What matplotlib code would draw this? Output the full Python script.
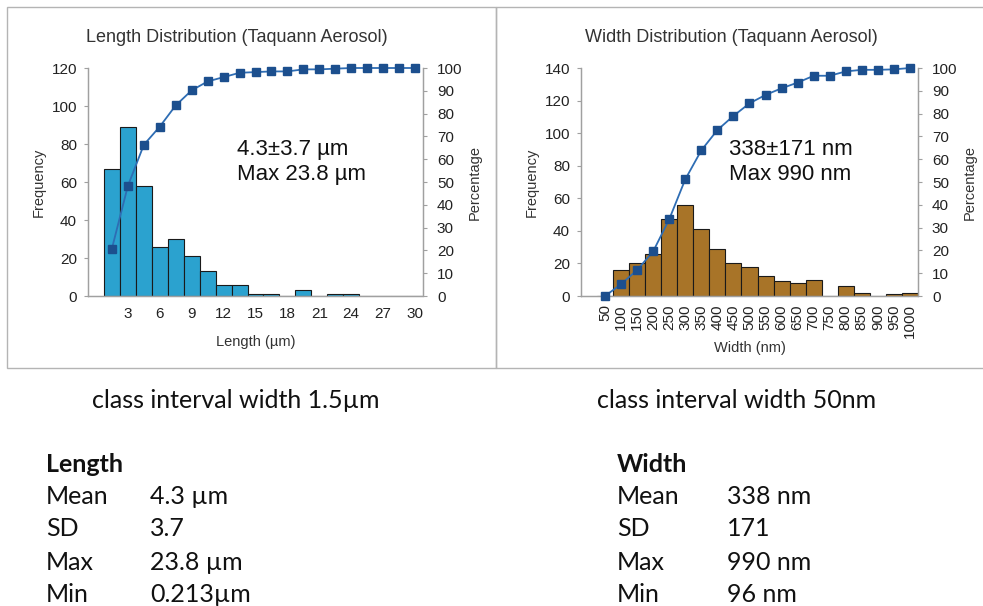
import matplotlib
matplotlib.use("Agg")
import matplotlib.pyplot as plt
from matplotlib.patches import Rectangle

W, H = 983, 606

# length histogram (class width 1.5 um)
len_bins = [1.5, 3, 4.5, 6, 7.5, 9, 10.5, 12, 13.5, 15, 16.5, 18, 19.5, 21, 22.5, 24, 25.5, 27, 28.5, 30]
len_freq = [67, 89, 58, 26, 30, 21, 13, 6, 6, 1, 1, 0, 3, 0, 1, 1, 0, 0, 0, 0]
len_cum = [20.8, 48.3, 66.3, 74.3, 83.6, 90.2, 94.1, 96.0, 97.9, 98.2, 98.5, 98.5, 99.4, 99.4, 99.7, 100, 100, 100, 100, 100]
len_ticks = [3, 6, 9, 12, 15, 18, 21, 24, 27, 30]

# width histogram (class width 50 nm)
wid_bins = [50, 100, 150, 200, 250, 300, 350, 400, 450, 500, 550, 600, 650, 700, 750, 800, 850, 900, 950, 1000]
wid_freq = [0, 16, 20, 26, 47, 56, 41, 29, 20, 18, 12, 9, 8, 10, 0, 6, 2, 0, 1, 2]
wid_cum = [0, 5.2, 11.4, 19.6, 33.7, 51.2, 63.9, 72.8, 79.0, 84.5, 88.2, 91.1, 93.6, 96.6, 96.6, 98.5, 99.2, 99.2, 99.4, 100]

len_stats = [("Mean", "4.3 µm"), ("SD", "3.7"), ("Max", "23.8 µm"), ("Min", "0.213µm")]
wid_stats = [("Mean", "338 nm"), ("SD", "171"), ("Max", "990 nm"), ("Min", "96 nm")]

line_col = "#2e6db4"
mark_col = "#1c4f8e"
axis_col = "#a0a0a0"
chart_font = "Liberation Sans"
text_font = "Lato"


def px(x0, y0, w, h):
    return [x0 / W, 1 - (y0 + h) / H, w / W, h / H]


def style_spines(a):
    a.spines["top"].set_visible(False)
    for s in ("left", "bottom", "right"):
        a.spines[s].set_color(axis_col)
        a.spines[s].set_linestyle((0, (1, 1)))
        a.spines[s].set_linewidth(0.9)


def draw_chart(rect, bins, freq, cum, width, color, xlim, ymax, xticks, rot,
               title, xlabel, note, title_x, note_x, xlab_pad, xtick_pad):
    ax = fig.add_axes(px(*rect))
    ax.bar(bins, freq, width=width, color=color, edgecolor="#1a1a1a", linewidth=0.8, zorder=2)
    ax.set_xlim(*xlim)
    ax.set_ylim(0, ymax)
    ax.set_yticks(range(0, ymax + 1, 20))
    ax.set_xticks(xticks)
    ax.set_xticklabels([str(t) for t in xticks], rotation=rot, fontsize=11, family=chart_font)
    for lab in ax.get_yticklabels():
        lab.set_fontsize(11)
        lab.set_family(chart_font)
    ax.tick_params(axis="x", length=0, pad=xtick_pad, colors="#222222")
    ax.tick_params(axis="y", length=3, width=0.8, color=axis_col, pad=5, colors="#222222")
    ax.set_ylabel("Frequency", fontsize=10.5, family=chart_font, color="#333333", labelpad=4)
    ax.set_xlabel(xlabel, fontsize=10.5, family=chart_font, color="#333333", labelpad=xlab_pad)
    style_spines(ax)

    ax2 = ax.twinx()
    ax2.plot(bins, cum, color=line_col, lw=1.3, marker="s", ms=5.5,
             mfc=mark_col, mec=mark_col, zorder=3, clip_on=False)
    ax2.set_ylim(0, 100)
    ax2.set_yticks(range(0, 101, 10))
    for lab in ax2.get_yticklabels():
        lab.set_fontsize(11)
        lab.set_family(chart_font)
    ax2.tick_params(axis="y", length=3, width=0.8, color=axis_col, pad=7, colors="#222222")
    ax2.set_ylabel("Percentage", fontsize=10.5, family=chart_font, color="#333333", labelpad=4)
    style_spines(ax2)

    fig.text(title_x / W, 1 - 37 / H, title, fontsize=13, family=chart_font,
             color="#333333", ha="center", va="center")
    fig.text(note_x / W, 1 - 162 / H, note, fontsize=16, family=chart_font,
             color="#111111", ha="left", va="center", linespacing=1.3)


fig = plt.figure(figsize=(W / 100, H / 100), dpi=100)

# panel frames
for x0, x1 in ((7, 496), (496, 984)):
    fig.add_artist(Rectangle((x0 / W, 1 - 368 / H), (x1 - x0) / W, 361 / H,
                             transform=fig.transFigure, fill=False,
                             edgecolor="#b4b4b4", linewidth=1.0))

draw_chart((88, 68, 335, 228), len_bins, len_freq, len_cum, 1.5, "#2ba2cf",
           (-0.75, 30.75), 120, len_ticks, 0,
           "Length Distribution (Taquann Aerosol)", "Length (µm)",
           "4.3±3.7 µm\nMax 23.8 µm", 237, 237, 10, 8)

draw_chart((581, 68, 337, 228), wid_bins, wid_freq, wid_cum, 50, "#a87428",
           (-25, 1025), 140, wid_bins, 90,
           "Width Distribution (Taquann Aerosol)", "Width (nm)",
           "338±171 nm\nMax 990 nm", 731, 729, 2, 6)

# captions
fig.text(236 / W, 1 - 400 / H, "class interval width 1.5µm", fontsize=18,
         family=text_font, ha="center", va="center", color="#111111")
fig.text(737 / W, 1 - 400 / H, "class interval width 50nm", fontsize=18,
         family=text_font, ha="center", va="center", color="#111111")

# stats tables
rows_y = [497, 529, 562, 594]
for head, stats, xl, xv in (("Length", len_stats, 46, 150), ("Width", wid_stats, 617, 727)):
    fig.text(xl / W, 1 - 464 / H, head, fontsize=18, family=text_font,
             fontweight="bold", ha="left", va="center", color="#111111")
    for (k, v), y in zip(stats, rows_y):
        fig.text(xl / W, 1 - y / H, k, fontsize=18, family=text_font,
                 ha="left", va="center", color="#111111")
        fig.text(xv / W, 1 - y / H, v, fontsize=18, family=text_font,
                 ha="left", va="center", color="#111111")

fig.savefig("out.png", dpi=100)
